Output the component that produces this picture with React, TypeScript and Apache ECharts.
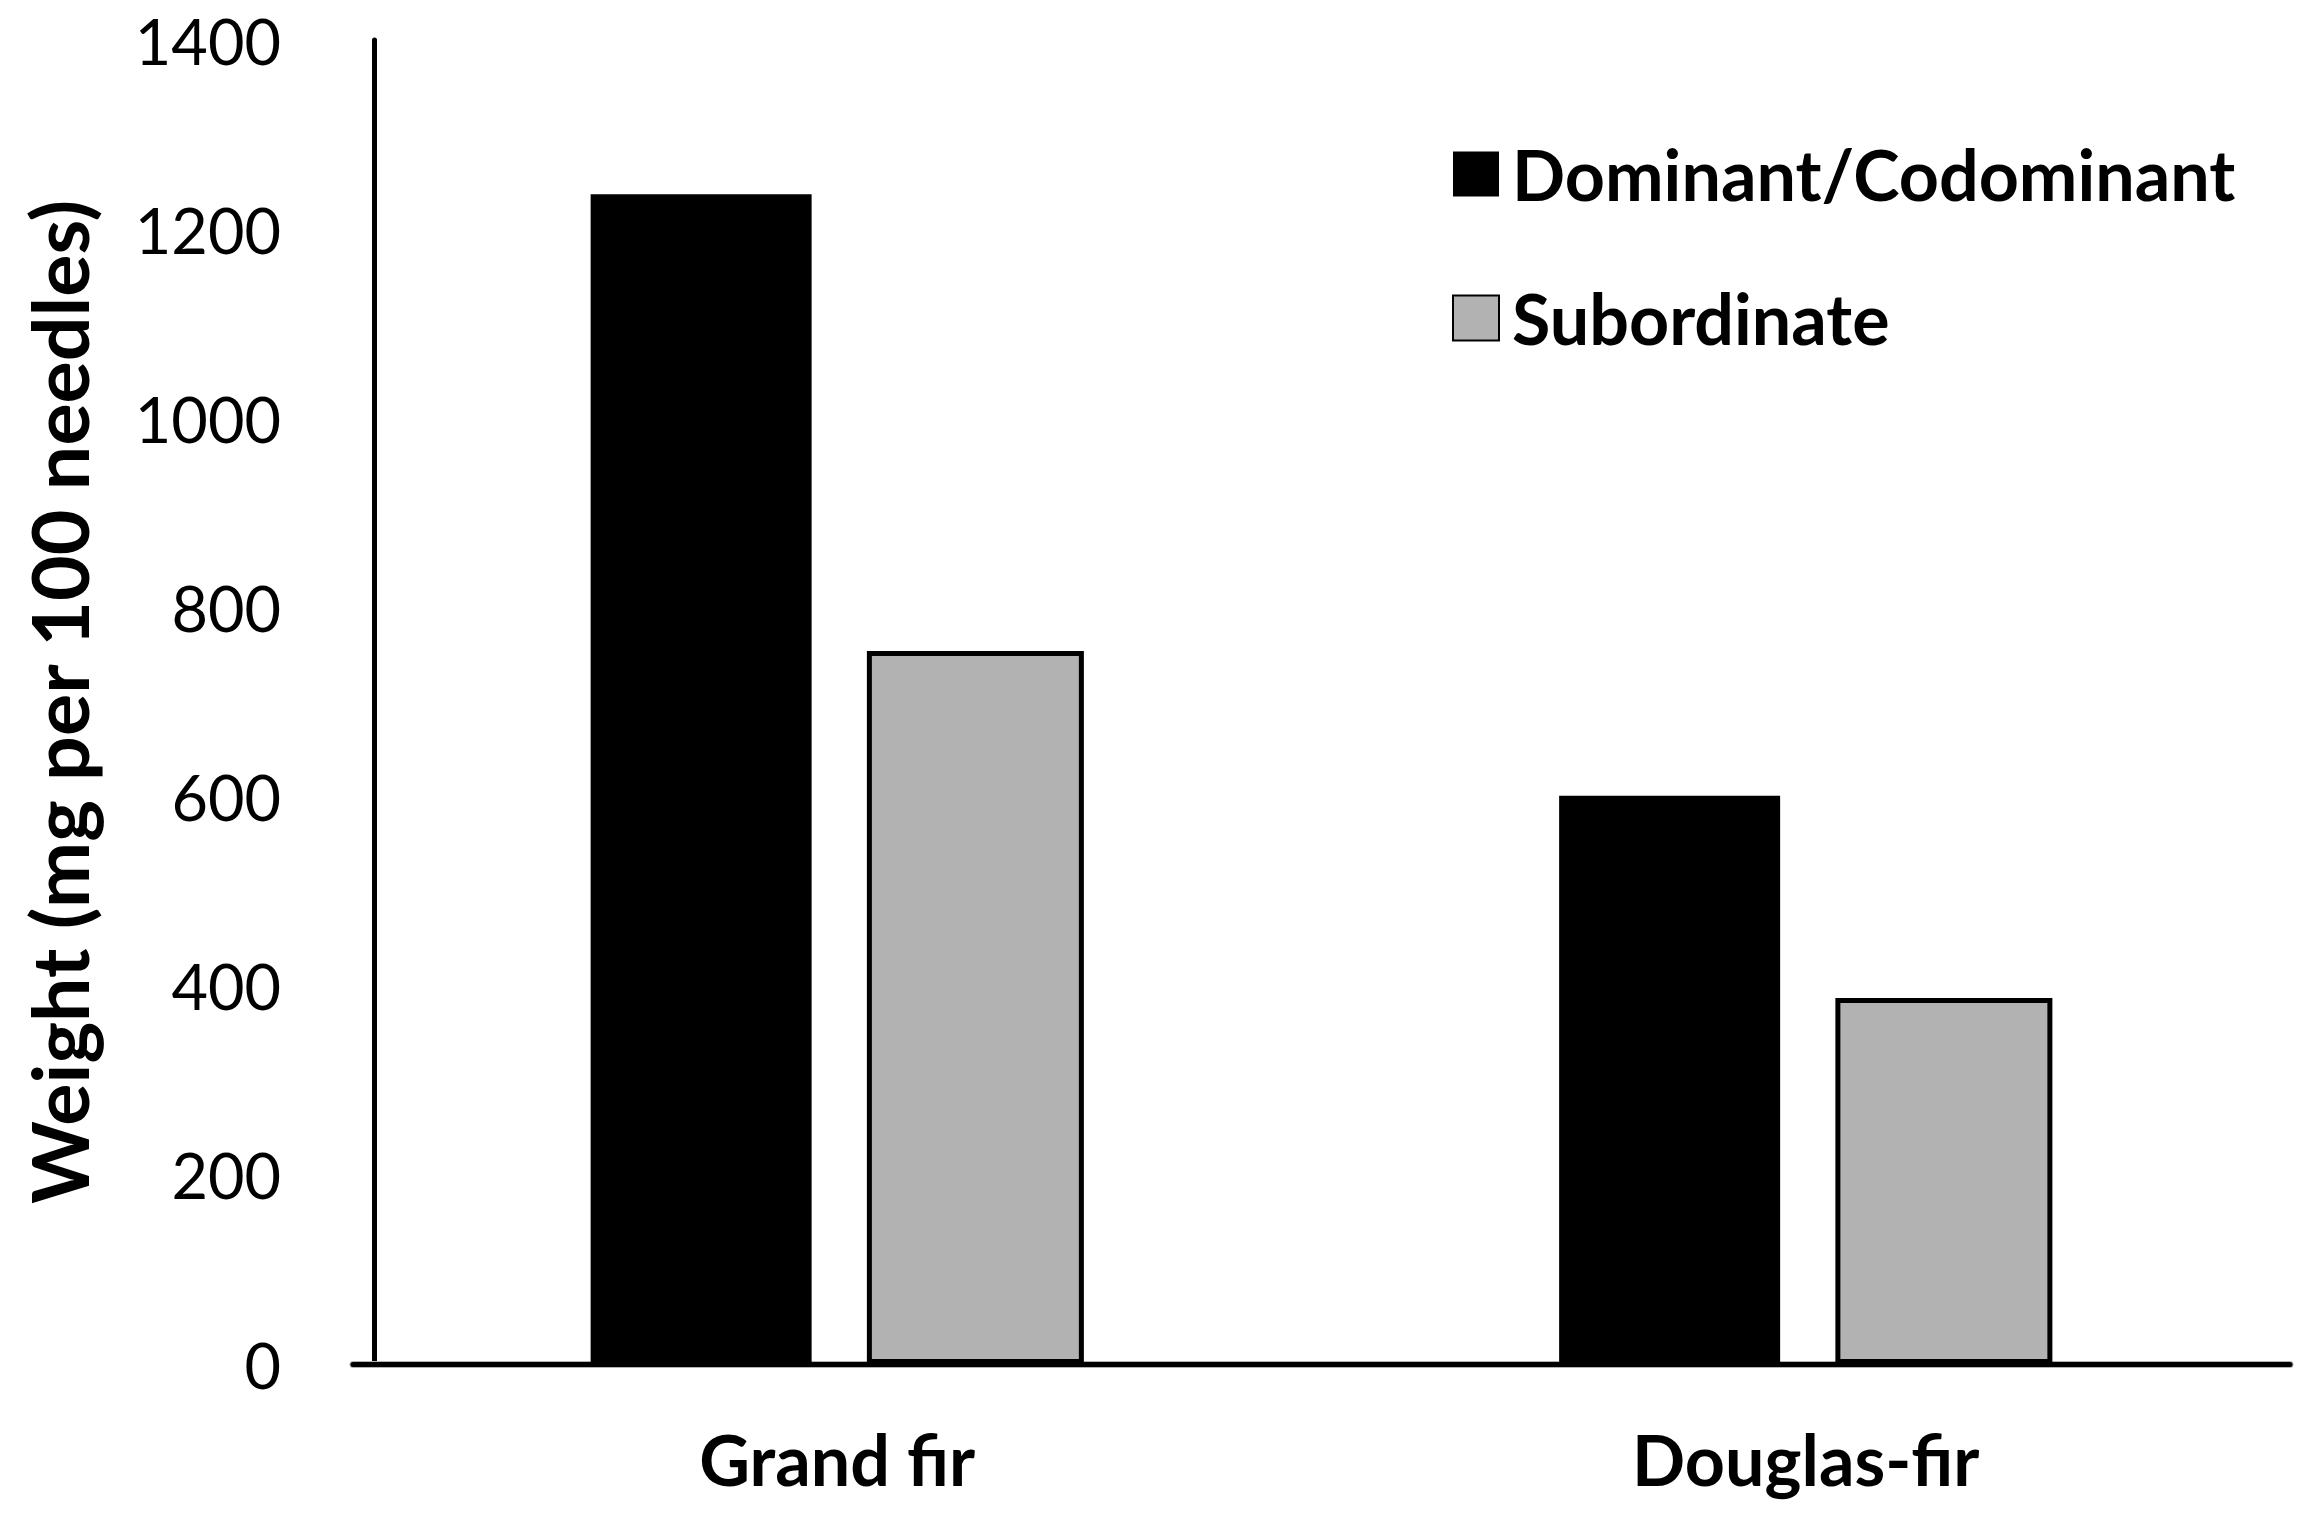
import React, { useEffect, useRef } from "react";
import * as echarts from "echarts";

const categories = ["Grand fir", "Douglas-fir"];
const dominantValues = [1237, 601];
const subordinateValues = [754, 387];
const yTicks = [0, 200, 400, 600, 800, 1000, 1200, 1400];
const seriesNames = ["Dominant/Codominant", "Subordinate"];
const yTitle = "Weight (mg per 100 needles)";

export default function App() {
  const ref = useRef<HTMLDivElement>(null);
  useEffect(() => {
    if (!ref.current) return;
    const chart = echarts.init(ref.current, undefined, { renderer: "svg" });
    const font = "Lato, 'Open Sans', sans-serif";
    chart.setOption({
      animation: false,
      backgroundColor: "#ffffff",
      textStyle: { fontFamily: font },
      grid: { left: 353, right: 23, top: 40, bottom: 156, containLabel: false, outerBoundsMode: "none" },
      legend: {
        orient: "vertical",
        left: 1452,
        top: 139,
        padding: 0,
        itemWidth: 46,
        itemHeight: 45,
        itemGap: 74,
        icon: "rect",
        textStyle: { fontFamily: font, fontSize: 70, fontWeight: "bold", color: "#000", padding: [0, 0, 0, 8] },
        data: seriesNames,
      },
      xAxis: [
        {
          type: "category",
          position: "bottom",
          data: categories,
          offset: 5,
          axisLine: { show: true, lineStyle: { color: "#b2b2b2", width: 7 } },
          axisTick: { show: false },
          axisLabel: { show: false },
          splitLine: { show: false },
          z: 0,
        },
        {
          type: "category",
          position: "bottom",
          data: categories,
          axisLine: { show: true, lineStyle: { color: "#000", width: 5 } },
          axisTick: { show: false },
          axisLabel: {
            margin: 60,
            fontFamily: font,
            fontSize: 70,
            fontWeight: "bold",
            color: "#000",
          },
          splitLine: { show: false },
          z: 5,
        },
      ],
      yAxis: {
        type: "value",
        min: 0,
        max: 1400,
        interval: 200,
        offset: -21,
        name: yTitle,
        nameLocation: "middle",
        nameRotate: 90,
        nameGap: 276,
        nameTextStyle: { fontFamily: font, fontSize: 79, fontWeight: "bold", color: "#000" },
        axisLine: { show: true, lineStyle: { color: "#000", width: 5 } },
        axisTick: { show: false },
        splitLine: { show: false },
        axisLabel: {
          margin: 93,
          fontFamily: font,
          fontSize: 63,
          color: "#000",
          formatter: (v: number) => (yTicks.includes(v) ? String(v) : ""),
        },
      },
      series: [
        {
          name: seriesNames[0],
          type: "bar",
          xAxisIndex: 1,
          data: dominantValues,
          barWidth: 221,
          barGap: "25%",
          itemStyle: { color: "#000000" },
          z: 3,
        },
        {
          name: seriesNames[1],
          type: "bar",
          xAxisIndex: 1,
          data: subordinateValues,
          barWidth: 217,
          itemStyle: { color: "#b2b2b2", borderColor: "#000000", borderWidth: 5 },
          z: 3,
        },
      ],
    });
    return () => chart.dispose();
  }, []);
  return (
    <div
      ref={ref}
      style={{ position: "fixed", left: 0, top: 0, width: 2313, height: 1520, background: "#fff" }}
    />
  );
}
